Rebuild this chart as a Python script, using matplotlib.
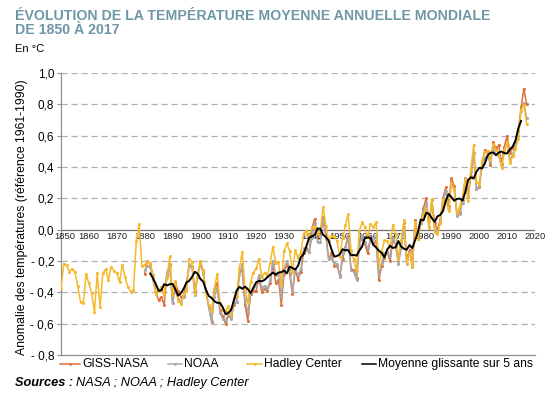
import matplotlib
matplotlib.use("Agg")
import matplotlib.pyplot as plt
import numpy as np
import pandas as pd

plt.rcParams['font.family'] = ['Liberation Sans', 'DejaVu Sans']

years_hadley = list(range(1850, 2018))
hadley = [-0.373, -0.218, -0.228, -0.269, -0.248, -0.272, -0.358, -0.461, -0.467, -0.284,
          -0.343, -0.407, -0.524, -0.278, -0.494, -0.279, -0.251, -0.321, -0.238, -0.262,
          -0.276, -0.335, -0.227, -0.304, -0.368, -0.395, -0.384, -0.075, 0.035, -0.230,
          -0.227, -0.200, -0.213, -0.296, -0.409, -0.389, -0.367, -0.418, -0.307, -0.171,
          -0.416, -0.330, -0.455, -0.473, -0.410, -0.390, -0.186, -0.206, -0.412, -0.289,
          -0.203, -0.259, -0.402, -0.479, -0.520, -0.377, -0.283, -0.465, -0.511, -0.522,
          -0.490, -0.544, -0.437, -0.424, -0.244, -0.141, -0.383, -0.468, -0.333, -0.275,
          -0.247, -0.187, -0.302, -0.276, -0.294, -0.215, -0.108, -0.210, -0.206, -0.350,
          -0.137, -0.087, -0.137, -0.273, -0.131, -0.178, -0.147, -0.026, -0.006, -0.052,
          0.014, 0.020, -0.027, -0.004, 0.144, 0.025, -0.071, -0.038, -0.039, -0.074,
          -0.173, -0.052, 0.028, 0.097, -0.129, -0.190, -0.267, -0.007, 0.046, 0.017,
          -0.049, 0.038, 0.014, 0.048, -0.223, -0.140, -0.068, -0.074, -0.113, 0.032,
          -0.027, -0.186, -0.065, 0.062, -0.214, -0.149, -0.241, 0.047, -0.062, 0.057,
          0.092, 0.140, 0.011, 0.194, -0.014, -0.030, 0.045, 0.192, 0.198, 0.118,
          0.296, 0.254, 0.105, 0.148, 0.208, 0.325, 0.183, 0.390, 0.539, 0.306,
          0.294, 0.441, 0.496, 0.505, 0.447, 0.545, 0.506, 0.491, 0.395, 0.506,
          0.560, 0.425, 0.470, 0.514, 0.579, 0.763, 0.797, 0.677]

years_1880 = list(range(1880, 2018))
giss = [-0.28, -0.20, -0.22, -0.29, -0.40, -0.45, -0.43, -0.48, -0.29, -0.22,
        -0.47, -0.34, -0.39, -0.43, -0.42, -0.34, -0.23, -0.23, -0.39, -0.29,
        -0.20, -0.27, -0.40, -0.49, -0.59, -0.38, -0.34, -0.51, -0.55, -0.60,
        -0.55, -0.56, -0.48, -0.46, -0.27, -0.26, -0.48, -0.58, -0.41, -0.39,
        -0.39, -0.31, -0.40, -0.38, -0.39, -0.34, -0.22, -0.34, -0.32, -0.48,
        -0.28, -0.22, -0.28, -0.41, -0.25, -0.32, -0.27, -0.15, -0.12, -0.14,
        0.01, 0.07, -0.05, -0.03, 0.08, -0.03, -0.19, -0.15, -0.23, -0.23,
        -0.29, -0.19, -0.11, -0.04, -0.25, -0.26, -0.31, -0.07, -0.06, -0.09,
        -0.15, -0.06, -0.09, -0.07, -0.32, -0.23, -0.18, -0.14, -0.20, -0.07,
        -0.09, -0.20, -0.11, 0.04, -0.19, -0.13, -0.22, 0.06, -0.05, 0.04,
        0.14, 0.20, 0.02, 0.19, 0.04, 0.00, 0.06, 0.20, 0.27, 0.15,
        0.33, 0.28, 0.10, 0.11, 0.19, 0.33, 0.21, 0.34, 0.49, 0.26,
        0.27, 0.42, 0.51, 0.50, 0.41, 0.56, 0.52, 0.54, 0.42, 0.53,
        0.60, 0.49, 0.52, 0.56, 0.63, 0.78, 0.90, 0.80]

noaa = [-0.26, -0.23, -0.24, -0.32, -0.41, -0.39, -0.38, -0.42, -0.27, -0.23,
        -0.47, -0.39, -0.44, -0.46, -0.43, -0.38, -0.22, -0.24, -0.42, -0.30,
        -0.22, -0.28, -0.39, -0.50, -0.58, -0.43, -0.37, -0.53, -0.57, -0.58,
        -0.54, -0.57, -0.47, -0.46, -0.29, -0.22, -0.45, -0.53, -0.40, -0.37,
        -0.36, -0.29, -0.37, -0.36, -0.38, -0.32, -0.20, -0.29, -0.28, -0.43,
        -0.25, -0.20, -0.25, -0.39, -0.25, -0.29, -0.25, -0.12, -0.13, -0.14,
        -0.05, 0.04, -0.08, -0.08, 0.06, -0.05, -0.19, -0.18, -0.21, -0.22,
        -0.30, -0.15, -0.12, -0.05, -0.26, -0.27, -0.32, -0.10, -0.04, -0.08,
        -0.12, -0.07, -0.06, -0.04, -0.29, -0.21, -0.15, -0.14, -0.17, -0.05,
        -0.10, -0.22, -0.12, 0.02, -0.22, -0.14, -0.24, 0.04, -0.06, 0.04,
        0.12, 0.17, 0.02, 0.19, 0.00, -0.02, 0.04, 0.18, 0.25, 0.13,
        0.30, 0.26, 0.09, 0.10, 0.17, 0.31, 0.21, 0.37, 0.49, 0.26,
        0.28, 0.40, 0.46, 0.47, 0.43, 0.52, 0.48, 0.47, 0.40, 0.50,
        0.56, 0.44, 0.48, 0.53, 0.60, 0.76, 0.81, 0.71]

y_ticks = [1.0, 0.8, 0.6, 0.4, 0.2, 0.0, -0.2, -0.4, -0.6, -0.8]
y_labels = ['1,0', '0,8', '0,6', '0,4', '0,2', '0,0', '- 0,2', '- 0,4', '- 0,6', '- 0,8']
x_ticks = list(range(1850, 2021, 10))

c_giss = '#E2703A'
c_noaa = '#A9A9A9'
c_had = '#F6B92B'
c_title = '#6F97A6'

# 5-year centered moving average of the three series
df = pd.DataFrame({'h': pd.Series(hadley, index=years_hadley),
                   'g': pd.Series(giss, index=years_1880),
                   'n': pd.Series(noaa, index=years_1880)}).loc[1880:]
ma = df.mean(axis=1).rolling(5, center=True).mean().dropna()

fig = plt.figure(figsize=(5.5, 3.94), dpi=100)
ax = fig.add_axes([61/550, 1-355/394, (535-61)/550, (355-73)/394])

lw = 1.1
ms = 2.2
ax.plot(years_1880, giss, color=c_giss, lw=lw, marker='o', ms=ms, mew=0, zorder=3)
ax.plot(years_1880, noaa, color=c_noaa, lw=lw, marker='o', ms=ms, mew=0, zorder=4)
ax.plot(years_hadley, hadley, color=c_had, lw=lw, marker='o', ms=ms, mew=0, zorder=5)
ax.plot(ma.index, ma.values, color='black', lw=1.4, zorder=6)

ax.set_xlim(1850, 2020)
ax.set_ylim(-0.8, 1.0)
ax.set_yticks(y_ticks)
ax.set_yticklabels(y_labels, fontsize=8.5)
ax.set_xticks([])
for yv in y_ticks:
    if yv not in (0.0, -0.8):
        ax.axhline(yv, color='#B0B0B0', lw=0.9, ls=(0, (5, 3)), zorder=1)
ax.axhline(0, color='#707070', lw=0.9, zorder=2)
for xv in x_ticks:
    ax.text(xv + (1.2 if xv == 1850 else 0), -0.012, str(xv), ha='center', va='top',
            fontsize=6.8, color='#222222')

for s in ['top', 'right']:
    ax.spines[s].set_visible(False)
for s in ['left', 'bottom']:
    ax.spines[s].set_color('#909090')
    ax.spines[s].set_linewidth(0.9)
ax.tick_params(axis='y', length=3, width=0.8, color='#909090', pad=2)

ax.set_ylabel('Anomalie des températures (référence 1961-1990)', fontsize=8.8)
ax.yaxis.set_label_coords(-0.07, 0.49)

fig.text(15/550, 1-9/394, 'ÉVOLUTION DE LA TEMPÉRATURE MOYENNE ANNUELLE MONDIALE\nDE 1850 À 2017',
         fontsize=10.2, fontweight='bold', color=c_title, va='top', ha='left', linespacing=1.0)
fig.text(15/550, 1-49/394, 'En °C', fontsize=8, va='center', ha='left')

# legend
leg_y = 1 - 364/394
items = [(60, 80, c_giss, 'GISS-NASA'), (168, 182, c_noaa, 'NOAA'),
         (247, 262, c_had, 'Hadley Center'), (362, 376, 'black', 'Moyenne glissante sur 5 ans')]
for x0, x1, col, lab in items:
    fig.add_artist(plt.Line2D([x0/550, x1/550], [leg_y, leg_y], color=col, lw=1.1,
                              transform=fig.transFigure))
    if col != 'black':
        fig.add_artist(plt.Line2D([(x0+x1)/2/550], [leg_y], color=col, marker='o', ms=2,
                                  mew=0, transform=fig.transFigure))
    fig.text((x1+2)/550, leg_y, lab, fontsize=8.7, va='center', ha='left')

src_y = 1 - 383/394
t1 = fig.text(15/550, src_y, 'Sources :', fontsize=9.2, va='center', ha='left',
              style='italic', fontweight='bold')
fig.canvas.draw()
bb = t1.get_window_extent()
fig.text(bb.x1/550 + 3/550, src_y, 'NASA ; NOAA ; Hadley Center', fontsize=9.2,
         va='center', ha='left', style='italic')
fig.savefig('out.png', dpi=100)
